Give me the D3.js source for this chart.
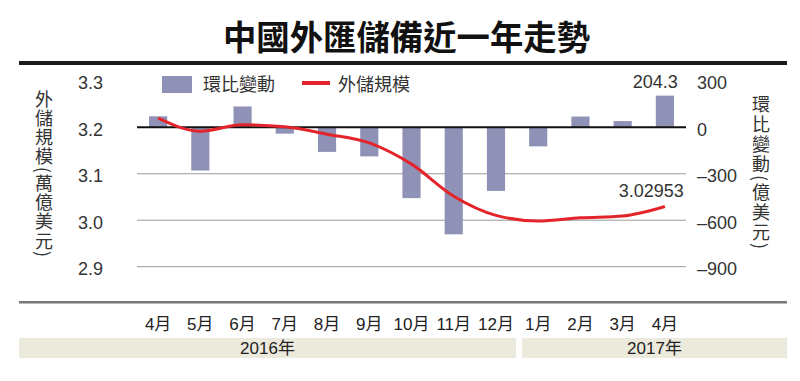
<!DOCTYPE html>
<html><head><meta charset="utf-8">
<script src="https://cdn.jsdelivr.net/npm/d3@7"></script>
<style>
html,body{margin:0;padding:0;background:#fff;}
svg{display:block;}
text{font-family:"Liberation Sans","Noto Sans CJK TC",sans-serif;}
</style></head>
<body>
<svg id="chart" width="800" height="381"></svg>
<script>
const title = "中國外匯儲備近一年走勢";
const months = ["4月","5月","6月","7月","8月","9月","10月","11月","12月","1月","2月","3月","4月"];
const years = [{label:"2016年", from:0, to:8},{label:"2017年", from:9, to:12}];
const reserves = [3.2197, 3.1917, 3.2052, 3.2011, 3.1852, 3.1664, 3.1207, 3.0516, 3.0105, 2.9982, 3.0051, 3.0091, 3.02953];
const changes = [70.9, -279.3, 134.4, -41.0, -158.9, -187.9, -457.3, -691.0, -410.8, -123.1, 69.2, 40.0, 204.3];
const leftTicks = [3.3, 3.2, 3.1, 3.0, 2.9];
const rightTicks = [300, 0, -300, -600, -900];
const leftTitle = "外儲規模(萬億美元)";
const rightTitle = "環比變動(億美元)";
const legendBar = "環比變動";
const legendLine = "外儲規模";

const svg = d3.select("#chart");
const barColor = "#8f92b6", lineColor = "#e3242b";

const x = d3.scaleBand().domain(d3.range(months.length)).range([137, 686]).paddingInner(0.57).paddingOuter(0.285);
const yL = d3.scaleLinear().domain([2.9, 3.3]).range([266.7, 80.8]);
const yR = d3.scaleLinear().domain([-900, 300]).range([266.7, 80.8]);
const cx = i => x(i) + x.bandwidth()/2;

// title
svg.append("text").attr("x", 223).attr("y", 50).attr("textLength", 367).attr("lengthAdjust","spacingAndGlyphs")
  .attr("font-size", 34).attr("font-weight", 700).attr("fill", "#111")
  .style("font-family", "'Noto Sans CJK TC',serif").text(title);
svg.append("rect").attr("x", 19).attr("y", 61).attr("width", 768).attr("height", 4).attr("fill", "#1a1a1a");

// gridlines
svg.append("g").selectAll("line").data(leftTicks.filter(t => t < 3.2)).join("line")
  .attr("x1", 137).attr("x2", 686).attr("y1", d => yL(d)).attr("y2", d => yL(d))
  .attr("stroke", "#9a9a9a").attr("stroke-width", 1);

// bars
svg.append("g").selectAll("rect").data(changes).join("rect")
  .attr("x", (d,i) => x(i)).attr("width", x.bandwidth())
  .attr("y", d => yR(Math.max(0,d))).attr("height", d => Math.abs(yR(d) - yR(0)))
  .attr("fill", barColor);

// zero line
svg.append("line").attr("x1", 137).attr("x2", 686).attr("y1", yR(0)).attr("y2", yR(0))
  .attr("stroke", "#111").attr("stroke-width", 2);

// line
const line = d3.line().x((d,i) => cx(i)).y(d => yL(d)).curve(d3.curveMonotoneX);
svg.append("path").datum(reserves).attr("d", line).attr("fill", "none")
  .attr("stroke", lineColor).attr("stroke-width", 3);

// axes labels
const axL = svg.append("g").attr("transform", "translate(103,0)")
  .call(d3.axisLeft(yL).tickValues(leftTicks).tickFormat(d3.format(".1f")).tickSize(0).tickPadding(0));
axL.select(".domain").remove();
axL.selectAll("text").attr("font-size", 18).attr("fill", "#333").attr("dy", "0.45em")
  .style("font-family", "'Liberation Sans',sans-serif");

const axR = svg.append("g").attr("transform", "translate(697,0)")
  .call(d3.axisRight(yR).tickValues(rightTicks).tickFormat(d => d < 0 ? "–" + Math.abs(d) : String(d)).tickSize(0).tickPadding(0));
axR.select(".domain").remove();
axR.selectAll("text").attr("font-size", 18).attr("fill", "#333").attr("dy", "0.45em")
  .style("font-family", "'Liberation Sans',sans-serif");

// vertical titles
svg.append("text").attr("x", 44).attr("y", 90).attr("font-size", 18).attr("fill", "#333")
  .style("writing-mode", "vertical-rl").style("letter-spacing", "1.2px")
  .style("font-family", "'Noto Sans CJK TC',sans-serif").text(leftTitle);
svg.append("text").attr("x", 761).attr("y", 95).attr("font-size", 18).attr("fill", "#333")
  .style("writing-mode", "vertical-rl").style("letter-spacing", "2px")
  .style("font-family", "'Noto Sans CJK TC',sans-serif").text(rightTitle);

// legend
svg.append("rect").attr("x", 162).attr("y", 76).attr("width", 30).attr("height", 17).attr("fill", barColor);
svg.append("text").attr("x", 203).attr("y", 91).attr("font-size", 18).attr("fill", "#333").text(legendBar);
svg.append("line").attr("x1", 302).attr("x2", 330).attr("y1", 83).attr("y2", 83).attr("stroke", lineColor).attr("stroke-width", 4);
svg.append("text").attr("x", 338).attr("y", 91).attr("font-size", 18).attr("fill", "#333").text(legendLine);

// annotations
const last = months.length - 1;
svg.append("text").attr("x", cx(last) + 13).attr("y", 88).attr("text-anchor", "end")
  .attr("font-size", 18).attr("fill", "#333").text(d3.format(".1f")(changes[last]));
svg.append("text").attr("x", cx(last) + 19).attr("y", 197).attr("text-anchor", "end")
  .attr("font-size", 18).attr("fill", "#333").text(d3.format(".5f")(reserves[last]));

// bottom line
svg.append("rect").attr("x", 19).attr("y", 301).attr("width", 768).attr("height", 2.5).attr("fill", "#777");

// month labels
svg.append("g").selectAll("text").data(months).join("text")
  .attr("x", (d,i) => cx(i)).attr("y", 330).attr("text-anchor", "middle")
  .attr("font-size", 17).attr("fill", "#222").text(d => d);

// year bands
const bandX = [19, 522], bandX2 = [516, 787];
years.forEach((yv, k) => {
  svg.append("rect").attr("x", bandX[k]).attr("y", 338).attr("width", bandX2[k]-bandX[k]).attr("height", 20).attr("fill", "#ece9dd");
  svg.append("text").attr("x", (bandX[k]+bandX2[k])/2).attr("y", 354).attr("text-anchor", "middle")
    .attr("font-size", 17).attr("fill", "#222").text(yv.label);
});
</script>
</body></html>
